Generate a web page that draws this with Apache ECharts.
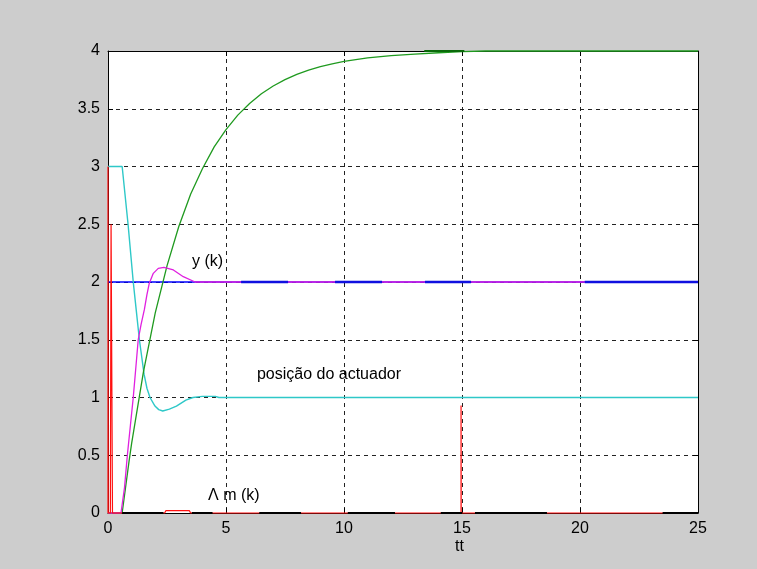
<!DOCTYPE html>
<html>
<head>
<meta charset="utf-8">
<script src="https://cdn.jsdelivr.net/npm/echarts@6/dist/echarts.min.js"></script>
<style>
html,body{margin:0;padding:0;background:#cdcdcd;}
#c{width:757px;height:569px;}
</style>
</head>
<body>
<div id="c"></div>
<script>
// ---- data ----
var xTicks = [0, 5, 10, 15, 20, 25];
var yTicks = [0, 0.5, 1, 1.5, 2, 2.5, 3, 3.5, 4];

// reference r(k)
var refSeries = [[0, 2], [25, 2]];

// y(k) (magenta)
var ySeries = [[0,0],[0.55,0],[0.7,0.22],[0.82,0.5],[0.95,0.76],[1.07,1.0],[1.18,1.26],[1.28,1.5],
  [1.4,1.63],[1.54,1.76],[1.65,1.89],[1.75,1.99],[1.92,2.075],[2.13,2.118],[2.37,2.127],
  [2.77,2.104],[3.19,2.046],[3.69,2.0],[25,2.0]];

// posição do actuador (cyan)
var posSeries = [[0,3],[0.6,3],[0.85,2.5],[1.07,2.0],[1.2,1.75],[1.33,1.5],[1.53,1.2],[1.65,1.08],
  [1.78,1.0],[1.99,0.926],[2.15,0.895],[2.32,0.883],[2.6,0.9],[2.9,0.926],[3.3,0.978],[3.6,1.0],
  [4.0,1.01],[4.55,1.01],[4.7,1.0],[25,1.0]];

// green state
var greenSeries = [[0,0],[0.6,0],[0.9,0.46],[1.0,0.6],[1.5,1.22],[2.0,1.73],[2.5,2.14],[3.0,2.48],
  [3.5,2.76],[4.0,2.98],[4.5,3.17],[5.0,3.32],[5.5,3.445],[6.0,3.546],[6.5,3.63],[7.0,3.697],
  [7.5,3.752],[8.0,3.798],[8.5,3.834],[9.0,3.865],[9.5,3.889],[10,3.91],[11,3.94],[12,3.96],
  [13,3.973],[14,3.985],[15,3.995],[16,4.0],[25,4.0]];

// Δm(k) (red)
var dmSeries = [[0,0],[0,3],[0.01,0],[0.1,0],[0.13,2.5],[0.19,0],[2.4,0],[2.45,0.02],[3.45,0.02],
  [3.5,0],[14.96,0],[14.96,0.93],[14.965,0],[25,0]];

// visible segments where the lower line shows through
var blueSegs = [[5.64,7.63],[9.62,11.61],[13.43,15.38],[20.2,25]];
var blackSegs = [[0.6,2.35],[3.55,4.43],[6.41,8.18],[10.16,12.16],[14.1,15.0],[15.55,18.6],[23.5,25]];
var greenSegs = [[13.4,15.1]];

var labels = [
  {text: 'y (k)', t: 3.56, v: 2.17},
  {text: 'posição do actuador', t: 6.31, v: 1.19},
  {text: 'Λ m (k)', t: 4.24, v: 0.14}
];
var xName = 'tt';

function segs(list, level) {
  var out = [];
  list.forEach(function (s, i) {
    if (i > 0) out.push(null);
    out.push([s[0], level]);
    out.push([s[1], level]);
  });
  return out;
}

var chart = echarts.init(document.getElementById('c'), null, {renderer: 'canvas'});
var FONT = '"Liberation Sans", Arial, sans-serif';

function mkLine(data, color, width, extra) {
  var s = {
    type: 'line', data: data, showSymbol: false, symbol: 'none', clip: false,
    connectNulls: false, animation: false,
    lineStyle: {color: color, width: width}, silent: true
  };
  if (extra) for (var k in extra) s[k] = extra[k];
  return s;
}

var axisCommon = {
  type: 'value',
  axisLine: {show: true, onZero: false, lineStyle: {color: '#000', width: 1}},
  axisTick: {show: true, inside: true, length: 5, lineStyle: {color: '#000'}},
  splitLine: {show: false}
};

var option = {
  backgroundColor: '#cdcdcd',
  animation: false,
  grid: {left: 108, top: 51, width: 590, height: 462, show: true, backgroundColor: '#fff', borderWidth: 0},
  xAxis: [
    Object.assign({}, axisCommon, {
      min: 0, max: 25, interval: 5, position: 'bottom',
      axisLabel: {color: '#000', fontSize: 16, fontFamily: FONT, margin: 8},
      splitLine: {show: true, lineStyle: {color: '#222', type: [4, 4], width: 1}}
    }),
    Object.assign({}, axisCommon, {
      min: 0, max: 25, interval: 5, position: 'top', axisLabel: {show: false}
    })
  ],
  yAxis: [
    Object.assign({}, axisCommon, {
      min: 0, max: 4, interval: 0.5, position: 'left',
      axisLabel: {color: '#000', fontSize: 16, fontFamily: FONT, margin: 8,
        formatter: function (v) { return String(v); }},
      splitLine: {show: true, lineStyle: {color: '#222', type: [4, 4], width: 1}}
    }),
    Object.assign({}, axisCommon, {
      min: 0, max: 4, interval: 0.5, position: 'right', axisLabel: {show: false}
    })
  ],
  series: [
    mkLine(refSeries, '#0000ff', 1.4),
    mkLine(posSeries, '#2ec8c8', 1.4),
    mkLine(greenSeries, '#1f9a1f', 1.3),
    mkLine(ySeries, '#e020e0', 1.3),
    mkLine(segs(blueSegs, 2), '#1010e0', 2.6),
    mkLine(dmSeries, '#ff1010', 1.2),
    mkLine(segs(blackSegs, 0), '#000', 2),
    mkLine(segs(greenSegs, 4), '#0a6a0a', 2)
  ]
};
chart.setOption(option);

var g = labels.map(function (l) {
  var p = chart.convertToPixel({gridIndex: 0}, [l.t, l.v]);
  return {type: 'text', left: p[0], top: p[1] - 9, silent: true,
    style: {text: l.text, fill: '#000', font: '16px ' + FONT}};
});
g.push({type: 'text', left: 455, top: 539, silent: true,
  style: {text: xName, fill: '#000', font: '16px ' + FONT}});
chart.setOption({graphic: g});
</script>
</body>
</html>
